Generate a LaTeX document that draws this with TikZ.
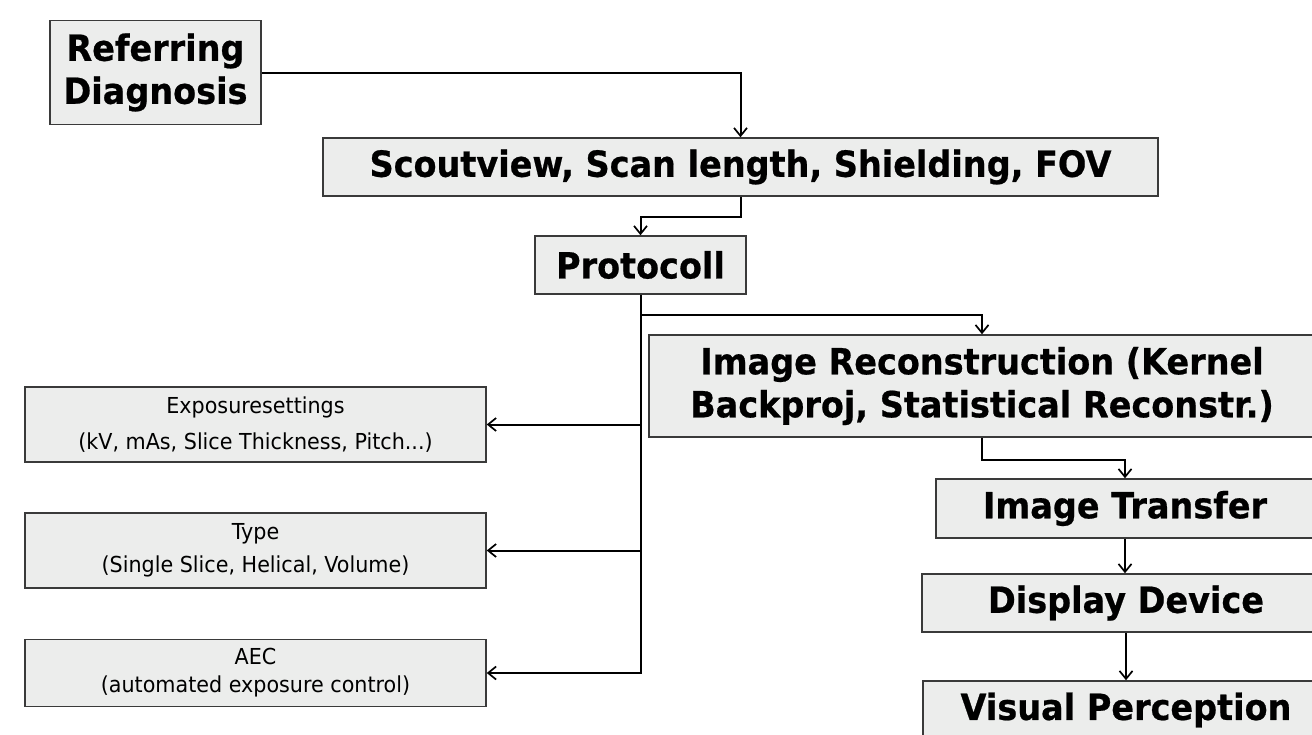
\documentclass[tikz,border=0pt]{standalone}
\usepackage{fontspec}
\newfontfamily\titlefont{DejaVu Sans Bold}[FakeStretch=0.93, FakeBold=0.6]
\newfontfamily\smallfont{DejaVu Sans}[FakeStretch=0.94]
\usetikzlibrary{arrows.meta, positioning}

\definecolor{boxgrau}{HTML}{ECEDEC}
\definecolor{boxrand}{HTML}{3A3A3A}

\begin{document}
\begin{tikzpicture}[x=1pt, y=-1pt]

	% Stile
	\tikzset{
		box/.style={draw=boxrand, fill=boxgrau, line width=1.5pt, inner sep=0pt, align=center},
		titel/.style={box, font=\titlefont\fontsize{36}{43}\selectfont},
		klein/.style={box, font=\smallfont\fontsize{22}{36}\selectfont},
		pfeil/.style={line width=2pt, -{Straight Barb[length=8pt,width=13pt,line width=1.7pt]}}
	}

	\useasboundingbox (0,0) rectangle (1312,734);
	\clip (0,0) rectangle (1312,734);

	% Planung
	\node[titel, minimum width=211pt, minimum height=104pt] (ref) at (155.5,72.5) {Referring\\Diagnosis};
	\node[titel, minimum width=835pt, minimum height=58pt] (scout) at (740.5,167) {Scoutview, Scan length, Shielding, FOV};
	\node[titel, minimum width=211pt, minimum height=58pt] (proto) at (640.5,265) {Protocoll};

	% Protokoll-Parameter (links)
	\node[klein, minimum width=461pt, minimum height=75pt] (expo) at (255.5,424.5) {Exposuresettings\\(kV, mAs, Slice Thickness, Pitch...)};
	\node[klein, minimum width=461pt, minimum height=75pt, font=\smallfont\fontsize{22}{33}\selectfont] (typ) at (255.5,550.5) {Type\\(Single Slice, Helical, Volume)};
	\node[klein, minimum width=461pt, minimum height=67pt, font=\smallfont\fontsize{22}{28}\selectfont] (aec) at (255.5,673) {AEC\\(automated exposure control)};

	% Bildkette (rechts)
	\node[titel, minimum width=666pt, minimum height=102pt] (recon) at (982,386) {Image Reconstruction (Kernel\\Backproj, Statistical Reconstr.)};
	\node[titel, minimum width=378pt, minimum height=59pt] (transfer) at (1125,508.5) {Image Transfer};
	\node[titel, minimum width=408pt, minimum height=58pt] (display) at (1126,603) {Display Device};
	\node[titel, minimum width=406pt, minimum height=58pt] (visual) at (1126,710) {Visual Perception};

	% Verbindungen
	\draw[pfeil] (ref.east) -| (scout.north);
	\draw[pfeil] (scout.south) -- ++(0,20) -| (proto.north);
	\draw[pfeil] (proto.south) -- ++(0,20) -| (recon.north);
	\draw[pfeil] (proto.south) |- (aec.east);
	\draw[pfeil] (proto.south |- expo.east) -- (expo.east);
	\draw[pfeil] (proto.south |- typ.east) -- (typ.east);
	\draw[pfeil] (recon.south) -- ++(0,22) -| (transfer.north);
	\draw[pfeil] (transfer.south) -- (transfer.south |- display.north);
	\draw[pfeil] (display.south) -- (display.south |- visual.north);

\end{tikzpicture}
\end{document}
